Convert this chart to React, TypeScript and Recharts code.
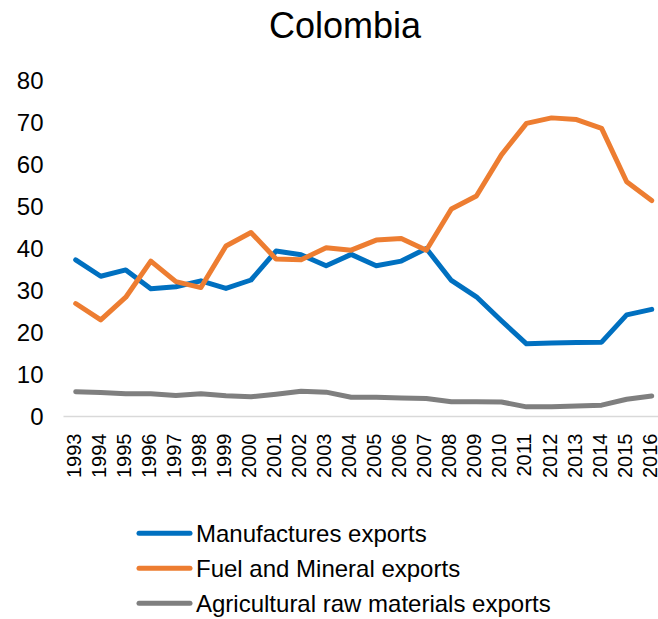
import React from 'react';
import { LineChart, Line, XAxis, YAxis, Customized } from 'recharts';

const YEARS = ['1993','1994','1995','1996','1997','1998','1999','2000','2001','2002','2003','2004','2005','2006','2007','2008','2009','2010','2011','2012','2013','2014','2015','2016'];
const MANUFACTURES = [37.3,33.4,34.9,30.4,30.9,32.3,30.5,32.5,39.4,38.5,35.9,38.6,35.9,37.0,40.0,32.4,28.5,22.8,17.3,17.5,17.6,17.7,24.2,25.5];
const FUEL_MINERAL = [26.9,23.0,28.4,37.0,32.1,30.7,40.6,43.8,37.5,37.3,40.2,39.6,42.0,42.4,39.6,49.4,52.5,62.3,69.8,71.1,70.7,68.6,55.9,51.4];
const AGRI_RAW = [5.9,5.7,5.4,5.4,5.0,5.4,4.95,4.7,5.3,6.0,5.8,4.6,4.6,4.4,4.3,3.5,3.5,3.45,2.3,2.3,2.5,2.7,4.1,4.9];
const Y_TICKS = [0,10,20,30,40,50,60,70,80];

const SERIES = [
  { key: 'manufactures', name: 'Manufactures exports', color: '#0070C0' },
  { key: 'fuel', name: 'Fuel and Mineral exports', color: '#ED7D31' },
  { key: 'agri', name: 'Agricultural raw materials exports', color: '#7F7F7F' },
];

const data = YEARS.map((y, i) => ({
  year: y,
  manufactures: MANUFACTURES[i],
  fuel: FUEL_MINERAL[i],
  agri: AGRI_RAW[i],
}));

const FONT = 'Liberation Sans, Arial, sans-serif';

const XTick = (props: any) => {
  const { x, y, payload } = props;
  const ty = y + 17;
  return (
    <text
      x={x}
      y={ty}
      transform={`rotate(-90, ${x}, ${ty})`}
      textAnchor="end"
      dy={5}
      fontSize={20}
      fontFamily={FONT}
      fill="#000"
    >
      {payload.value}
    </text>
  );
};

const Title = () => (
  <text x={345} y={37.5} textAnchor="middle" fontSize={36} fontFamily={FONT} fill="#000">
    Colombia
  </text>
);

const LegendBox = () => (
  <g>
    {SERIES.map((s, i) => {
      const cy = 533.3 + i * 35;
      return (
        <g key={s.key}>
          <line x1={139} x2={190} y1={cy} y2={cy} stroke={s.color} strokeWidth={5} strokeLinecap="round" />
          <text x={196} y={cy + 8.6} fontSize={24} fontFamily={FONT} fill="#000">
            {s.name}
          </text>
        </g>
      );
    })}
  </g>
);

export default function App() {
  return (
    <div style={{ position: 'absolute', left: 0, top: 0, width: 658, height: 619, background: '#fff' }}>
      <LineChart
        width={658}
        height={619}
        data={data}
        margin={{ top: 80.5, right: 0, bottom: 142.5, left: 0 }}
      >
        <XAxis
          dataKey="year"
          height={60}
          interval={0}
          tickLine={false}
          tickSize={0}
          tickMargin={0}
          axisLine={{ stroke: '#D9D9D9', strokeWidth: 1.5 }}
          padding={{ left: 12.2, right: 6.3 }}
          tick={<XTick />}
        />
        <YAxis
          width={63.5}
          domain={[0, 80]}
          ticks={Y_TICKS}
          interval={0}
          axisLine={false}
          tickLine={false}
          tickSize={0}
          tickMargin={20}
          tick={{ fontSize: 24, fontFamily: FONT, fill: '#000' }}
        />
        {SERIES.map((s) => (
          <Line
            key={s.key}
            type="linear"
            dataKey={s.key}
            name={s.name}
            stroke={s.color}
            strokeWidth={5}
            dot={false}
            activeDot={false}
            strokeLinejoin="round"
            strokeLinecap="round"
            isAnimationActive={false}
          />
        ))}
        <Customized component={<Title />} />
        <Customized component={<LegendBox />} />
      </LineChart>
    </div>
  );
}
